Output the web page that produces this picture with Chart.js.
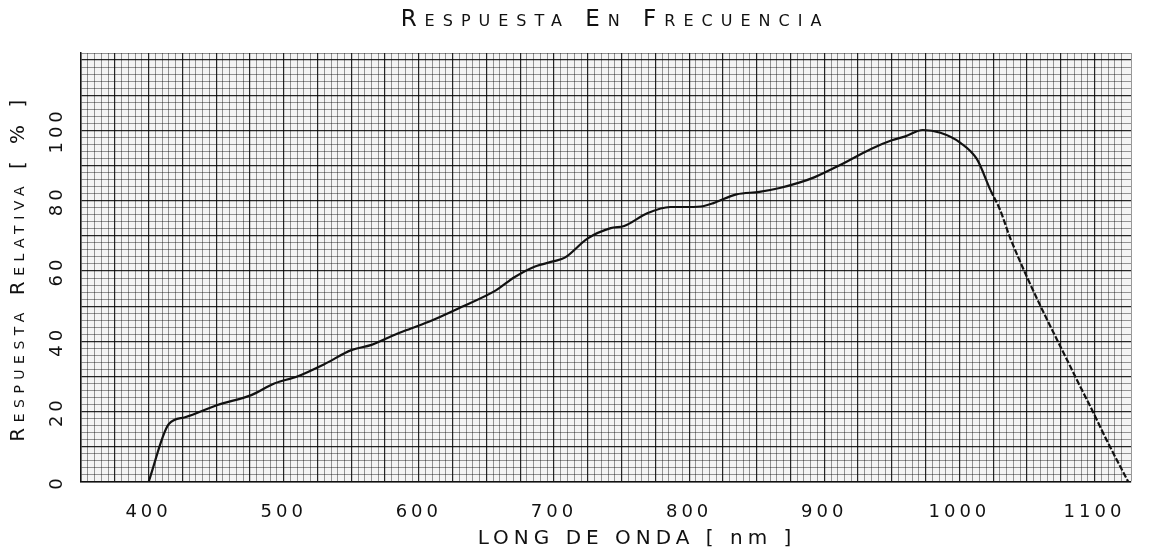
<!DOCTYPE html>
<html>
<head>
<meta charset="utf-8">
<script src="https://cdn.jsdelivr.net/npm/chart.js@4.4.1/dist/chart.umd.min.js"></script>
<style>
  html, body { margin: 0; padding: 0; background: #fff; }
  #wrap { width: 1151px; height: 554px; }
</style>
</head>
<body>
<div id="wrap"><canvas id="respChart"></canvas></div>
<script>
// Curva: longitud de onda (nm) y respuesta relativa (%)
const wavelength = [400, 415, 427, 451, 476, 493, 510, 530, 550, 565, 580, 591, 610, 630, 657, 671, 686, 700, 708, 725, 742, 752, 769, 786, 800, 811, 818, 835, 852, 867, 882, 893, 911, 935, 950, 960, 973, 986, 1001, 1013, 1023, 1030, 1038, 1087, 1097, 1109, 1125];
const response = [0, 16.5, 18.4, 21.9, 24.7, 28, 30, 33.5, 37.5, 39, 41.5, 43.2, 46, 49.5, 54.5, 58.3, 61.3, 62.8, 63.8, 69.3, 72.2, 72.8, 76.4, 78.2, 78.2, 78.5, 79.3, 81.8, 82.5, 83.6, 85.2, 86.7, 90, 94.8, 97.2, 98.3, 100.1, 99.3, 96.4, 91.8, 83, 77.5, 69, 29, 21.4, 11.9, 0];

const xTickLabels = [400, 500, 600, 700, 800, 900, 1000, 1100];
const yTickLabels = [0, 20, 40, 60, 80, 100];

const titleText = 'Respuesta En Frecuencia';
const xTitleText = 'LONG DE ONDA [ nm ]';
const yTitleText = 'Respuesta Relativa [ % ]';

const FONT = '"DejaVu Sans", sans-serif';

// fondo del papel milimetrado
const paperBg = {
    id: 'paperBg',
    beforeDraw(chart) {
        const { ctx, chartArea: a } = chart;
        ctx.save();
        ctx.fillStyle = '#f4f4f4';
        ctx.fillRect(a.left, a.top, a.right - a.left, a.bottom - a.top);
        ctx.restore();
        ctx.letterSpacing = '4px';
    }
};

// títulos en versalitas
const titles = {
    id: 'titles',
    afterDraw(chart) {
        const ctx = chart.ctx;
        ctx.save();
        ctx.fillStyle = '#111';
        ctx.textAlign = 'center';
        ctx.textBaseline = 'middle';

        ctx.letterSpacing = '8px';
        ctx.font = 'small-caps 23px ' + FONT;
        ctx.fillText(titleText, 615, 20);

        ctx.letterSpacing = '5px';
        ctx.font = '20px ' + FONT;
        ctx.fillText(xTitleText, 637, 539);

        ctx.translate(19, 268);
        ctx.rotate(-Math.PI / 2);
        ctx.letterSpacing = '5.5px';
        ctx.font = 'small-caps 20px ' + FONT;
        ctx.fillText(yTitleText, 0, 0);
        ctx.restore();
    }
};

const ctx = document.getElementById('respChart').getContext('2d');
const chart = new Chart(ctx, {
    type: 'line',
    data: {
        datasets: [{
            label: 'Respuesta relativa',
            data: wavelength.map((w, i) => ({ x: w, y: response[i] })),
            borderColor: '#111',
            borderWidth: 2.2,
            pointRadius: 0,
            cubicInterpolationMode: 'monotone',
            fill: false,
            segment: {
                borderDash: c => c.p0.parsed.x >= 1023 ? [6, 2] : undefined
            }
        }]
    },
    options: {
        responsive: true,
        maintainAspectRatio: false,
        animation: false,
        layout: { padding: { top: 53, right: 10, left: 0, bottom: 0 } },
        plugins: {
            legend: { display: false },
            tooltip: { enabled: false },
            title: { display: false }
        },
        scales: {
            x: {
                type: 'linear',
                min: 350,
                max: 1127,
                afterFit: s => { s.height = 72; },
                border: { display: true, color: '#111', width: 1.5 },
                grid: {
                    drawTicks: false,
                    color: c => c.tick && c.tick.value % 25 === 0 ? 'rgba(0,0,0,0.85)' : 'rgba(0,0,0,0.4)',
                    lineWidth: c => c.tick && c.tick.value % 25 === 0 ? 1.2 : 1
                },
                ticks: {
                    stepSize: 5,
                    autoSkip: false,
                    maxRotation: 0,
                    padding: 20,
                    color: '#111',
                    font: { family: FONT, size: 18 },
                    callback: v => xTickLabels.includes(v) ? String(v) : ''
                }
            },
            y: {
                min: 0,
                max: 122,
                afterFit: s => { s.width = 81; },
                border: { display: true, color: '#111', width: 1.5 },
                grid: {
                    drawTicks: false,
                    color: c => c.tick && c.tick.value % 10 === 0 ? 'rgba(0,0,0,0.85)' : 'rgba(0,0,0,0.4)',
                    lineWidth: c => c.tick && c.tick.value % 10 === 0 ? 1.2 : 1
                },
                ticks: {
                    stepSize: 2,
                    autoSkip: false,
                    minRotation: 90,
                    maxRotation: 90,
                    crossAlign: 'center',
                    padding: 6,
                    color: '#111',
                    font: { family: FONT, size: 18 },
                    callback: v => yTickLabels.includes(v) ? String(v) : ''
                }
            }
        }
    },
    plugins: [paperBg, titles]
});
</script>
</body>
</html>
